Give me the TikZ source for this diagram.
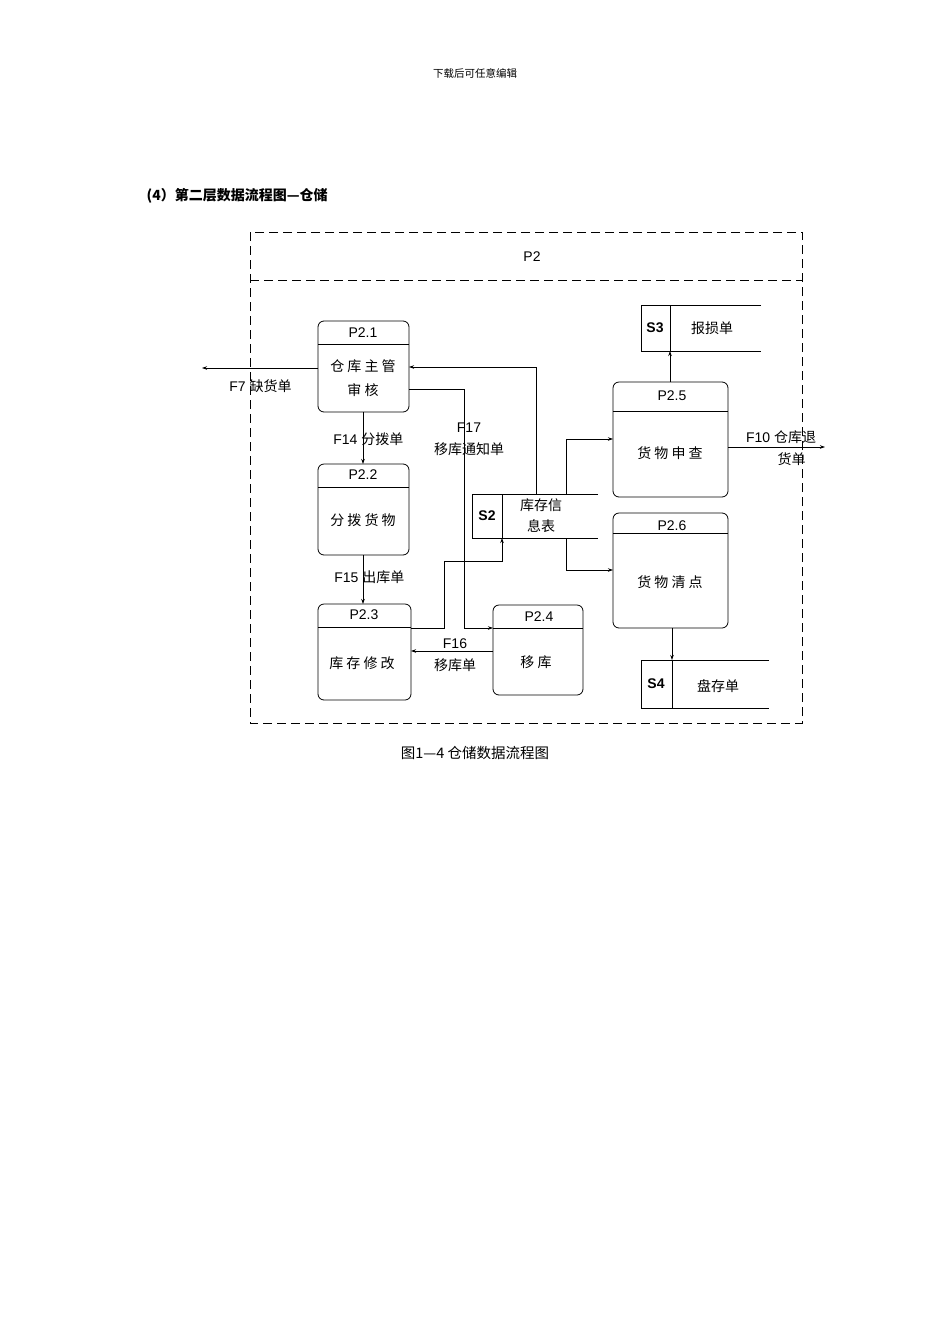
\documentclass[tikz,border=0pt]{standalone}
\usepackage{fontspec}
\setmainfont{Liberation Sans}
\newfontfamily\cjk{Noto Sans CJK SC}
\usetikzlibrary{arrows.meta}
\tikzset{
  flow/.style={-{Stealth[length=5pt,width=3.5pt]}},
  lbl/.style={font=\fontsize{14}{22}\selectfont, inner sep=1pt, align=center},
  txt/.style={font=\cjk\fontsize{14}{24}\selectfont, align=center, inner sep=0pt},
  sid/.style={font=\bfseries\fontsize{14}{17}\selectfont, inner sep=1pt}
}
\begin{document}
\begin{tikzpicture}[x=1pt, y=-1pt, line width=0.8pt]
	\useasboundingbox (0,0) rectangle (950,1344);
	\node[font=\cjk\fontsize{10.5}{12}\selectfont] (head) at (475,73) {下载后可任意编辑};
	\node[font=\cjk\bfseries\fontsize{14}{16}\selectfont, anchor=west] (title) at (143,196) {(4）第二层数据流程图—仓储};
	\node[font=\cjk\fontsize{14.5}{16}\selectfont] (cap) at (475,753) {图1—4 仓储数据流程图};
	% frame
	\draw[dash pattern=on 9pt off 5pt] (250,232) rectangle (802,723);
	\draw[dash pattern=on 9pt off 5pt] (250,280) -- (802,280);
	\node[lbl] (p2) at (532,257) {P2};
	% processes
	\draw[rounded corners=6pt] (318,321) rectangle (409,412);
	\draw (318,344) -- (409,344);
	\node[lbl] (p21) at (363,333) {P2.1};
	\node[txt] (t21) at (363,378) {仓 库 主 管\\审 核};
	\draw[rounded corners=6pt] (318,464) rectangle (409,555);
	\draw (318,487) -- (409,487);
	\node[lbl] (p22) at (363,475) {P2.2};
	\node[txt] (t22) at (363,520) {分 拨 货 物};
	\draw[rounded corners=6pt] (318,604) rectangle (411,700);
	\draw (318,627) -- (411,627);
	\node[lbl] (p23) at (364,615) {P2.3};
	\node[txt] (t23) at (362,663) {库 存 修 改};
	\draw[rounded corners=6pt] (493,605) rectangle (583,695);
	\draw (493,628) -- (583,628);
	\node[lbl] (p24) at (539,617) {P2.4};
	\node[txt] (t24) at (536,662) {移 库};
	\draw[rounded corners=6pt] (613,382) rectangle (728,497);
	\draw (613,411) -- (728,411);
	\node[lbl] (p25) at (672,396) {P2.5};
	\node[txt] (t25) at (670,453) {货 物 申 查};
	\draw[rounded corners=6pt] (613,513) rectangle (728,628);
	\draw (613,533) -- (728,533);
	\node[lbl] (p26) at (672,526) {P2.6};
	\node[txt] (t26) at (670,582) {货 物 清 点};
	% stores
	\draw (598,494) -- (472,494) -- (472,538) -- (598,538);
	\draw (502,494) -- (502,538);
	\node[sid] (s2) at (487,516) {S2};
	\node[txt, font=\cjk\fontsize{14}{21}\selectfont] (t2) at (541,516) {库存信\\息表};
	\draw (761,305) -- (641,305) -- (641,351) -- (761,351);
	\draw (670,305) -- (670,351);
	\node[sid] (s3) at (655,328) {S3};
	\node[txt] (t3) at (712,328) {报损单};
	\draw (769,660) -- (641,660) -- (641,708) -- (769,708);
	\draw (672,660) -- (672,708);
	\node[sid] (s4) at (656,684) {S4};
	\node[txt] (t4) at (718,686) {盘存单};
	% flows
	\coordinate (f7end) at (202,368);
	\coordinate (f10end) at (825,447);
	\draw[flow] (318,368) -- (f7end);
	\node[lbl, anchor=west] (f7) at (228,386) {F7 {\cjk 缺货单}};
	\draw[flow] (536,494) -- (536,367) -- (409,367);
	\draw[flow] (409,389) -- (464,389) -- (464,628) -- (493,628);
	\node[lbl] (f17) at (469,439) {F17\\{\cjk 移库通知单}};
	\draw[flow] (363,412) -- (363,464);
	\node[lbl, anchor=west] (f14) at (332,439) {F14 {\cjk 分拨单}};
	\draw[flow] (363,555) -- (363,604);
	\node[lbl, anchor=west] (f15) at (333,577) {F15 {\cjk 出库单}};
	\draw[flow] (411,628) -- (444,628) -- (444,561) -- (502,561) -- (502,538);
	\draw[flow] (493,651) -- (411,651);
	\node[lbl] (f16) at (455,655) {F16\\{\cjk 移库单}};
	\draw[flow] (566,494) -- (566,439) -- (613,439);
	\draw[flow] (566,538) -- (566,570) -- (613,570);
	\draw[flow] (670,382) -- (670,351);
	\draw[flow] (728,447) -- (f10end);
	\node[lbl] (f10) at (781,448) {F10 {\cjk 仓库退}\\\hspace*{1.5em}{\cjk 货单}};
	\draw[flow] (672,628) -- (672,660);
\end{tikzpicture}
\end{document}
